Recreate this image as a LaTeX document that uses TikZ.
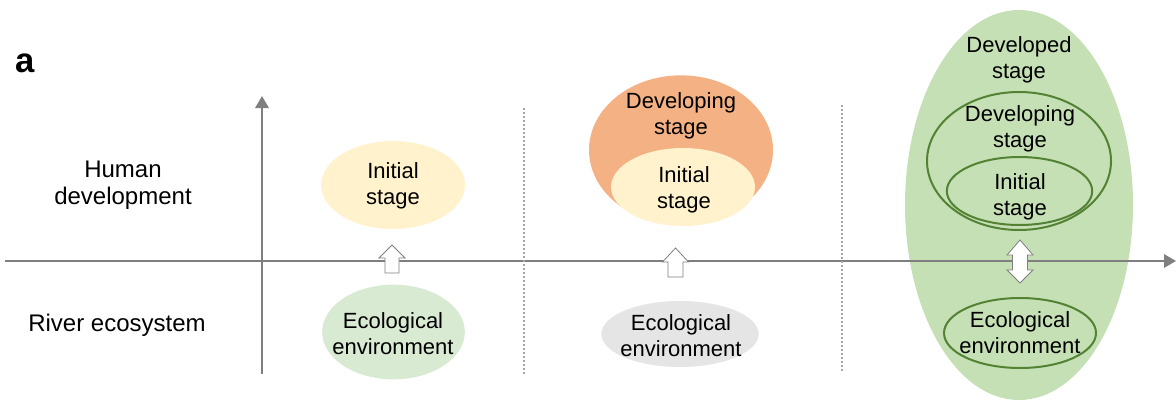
\documentclass[tikz,border=0pt]{standalone}
\usepackage{fontspec}
\setmainfont{Liberation Sans}
\usetikzlibrary{shapes.geometric,arrows.meta}
\definecolor{axisgray}{HTML}{7F7F7F}
\definecolor{dotgray}{HTML}{A6A6A6}
\definecolor{yelo}{HTML}{FFF2CC}
\definecolor{lgreen}{HTML}{D9EAD3}
\definecolor{orng}{HTML}{F4B183}
\definecolor{lgray}{HTML}{E5E5E5}
\definecolor{mgreen}{HTML}{C5E0B4}
\definecolor{dgreen}{HTML}{548235}
\begin{document}
\begin{tikzpicture}[x=0.75pt,y=-0.75pt,
  ell/.style={ellipse,inner sep=0pt,draw=none},
  ring/.style={ellipse,inner sep=0pt,draw=dgreen,line width=1.5pt},
  txt/.style={font=\fontsize{16.5}{19.5}\selectfont,align=center,inner sep=0pt},
  lab/.style={font=\fontsize{18}{20.5}\selectfont,align=center,inner sep=0pt},
  axis/.style={draw=axisgray,line width=1.6pt,-{Triangle[length=9pt,width=10pt]}},
  sep/.style={draw=dotgray,line width=0.8pt,dash pattern=on 1.5pt off 1.5pt},
  blk/.style={fill=white,draw=axisgray,line width=0.6pt,line join=miter}]
\useasboundingbox (0,0) rectangle (1176,403);

% ellipses
\node[ell,fill=yelo,minimum width=108pt,minimum height=66pt] (init1) at (393,185) {};
\node[ell,fill=lgreen,minimum width=107pt,minimum height=71pt] (eco1) at (393.5,332) {};
\node[ell,fill=orng,minimum width=138pt,minimum height=112pt] (dev2) at (681,150) {};
\node[ell,fill=yelo,minimum width=108pt,minimum height=58.5pt] (init2) at (683,187) {};
\node[ell,fill=lgray,minimum width=118pt,minimum height=49.5pt] (eco2) at (680,334) {};
\node[ell,fill=mgreen,minimum width=171pt,minimum height=292.5pt] (big3) at (1019,205) {};
\node[ring,minimum width=138pt,minimum height=103.5pt] (dev3) at (1019,161) {};
\node[ring,minimum width=109pt,minimum height=51pt] (init3) at (1019.5,191) {};
\node[ring,minimum width=114pt,minimum height=52.5pt] (eco3) at (1020,333) {};

% axes
\coordinate (hx0) at (5,261);
\coordinate (hx1) at (1176,261);
\coordinate (vy0) at (262,374);
\coordinate (vy1) at (262,96);
\draw[axis] (hx0) -- (hx1);
\draw[axis] (vy0) -- (vy1);

% separators
\coordinate (s1a) at (524,108);
\coordinate (s1b) at (524,375);
\coordinate (s2a) at (842,105);
\coordinate (s2b) at (842,372);
\draw[sep] (s1a) -- (s1b);
\draw[sep] (s2a) -- (s2b);

% block arrows
\draw[blk] (392,245) -- (405,258) -- (399,258) -- (399,273) -- (385,273) -- (385,258) -- (379,258) -- cycle;
\draw[blk] (675.5,248) -- (688.5,262) -- (683,262) -- (683,277) -- (668,277) -- (668,262) -- (662.5,262) -- cycle;
\draw[blk] (1020,240) -- (1033,255) -- (1027.5,255) -- (1027.5,270) -- (1033,270) -- (1020,283) -- (1007,270) -- (1012.5,270) -- (1012.5,255) -- (1007,255) -- cycle;

% texts
\node[font=\fontsize{26}{30}\selectfont\bfseries,inner sep=0pt] (lbla) at (25.5,63) {a};
\node[lab] (hum) at (123,185) {Human\\development};
\node[lab] (riv) at (117,325) {River ecosystem};
\node[txt] (t1) at (393,186) {Initial\\stage};
\node[txt] (t2) at (393,334) {Ecological\\environment};
\node[txt] (t3) at (681,116) {Developing\\stage};
\node[txt] (t4) at (684,190) {Initial\\stage};
\node[txt] (t5) at (681,336) {Ecological\\environment};
\node[txt] (t6) at (1019,60) {Developed\\stage};
\node[txt] (t7) at (1020,129) {Developing\\stage};
\node[txt] (t8) at (1020,197) {Initial\\stage};
\node[txt] (t9) at (1020,333) {Ecological\\environment};
\end{tikzpicture}
\end{document}
